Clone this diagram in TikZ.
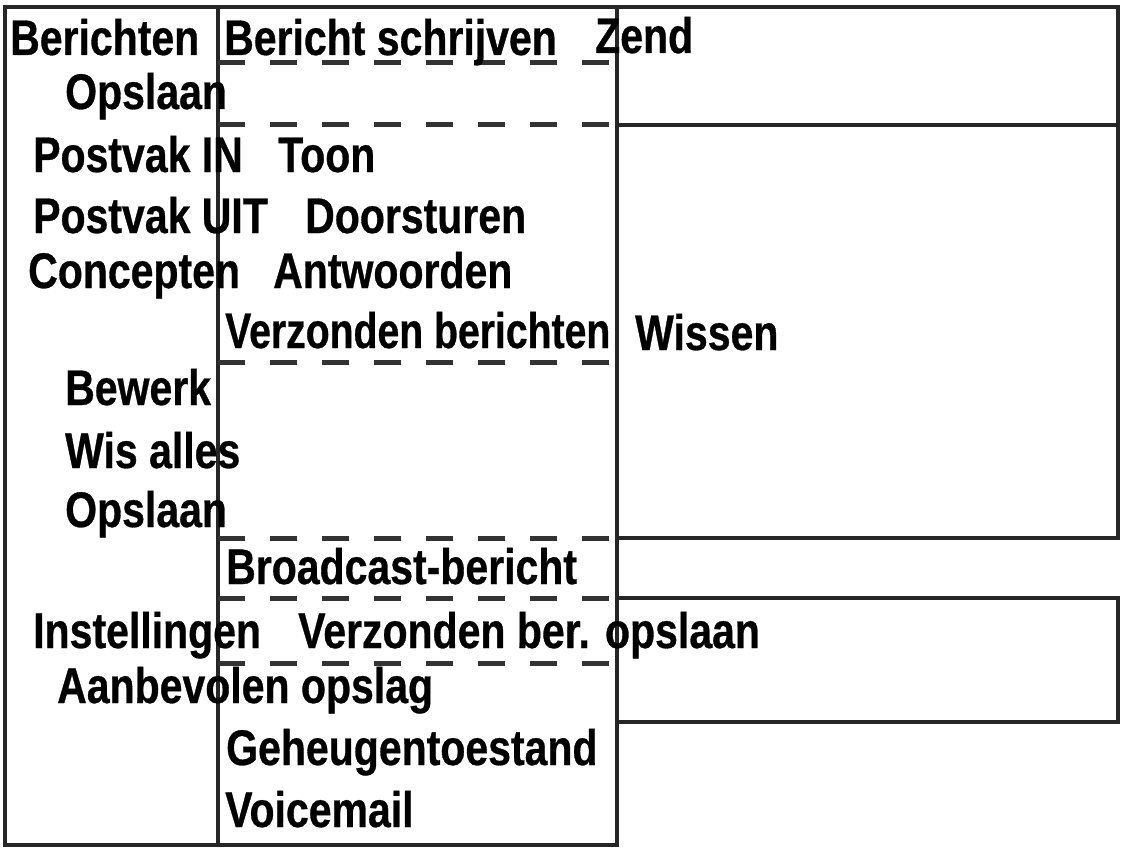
\documentclass[tikz,border=0pt]{standalone}
\usepackage{fontspec}
\setmainfont{Liberation Sans}[FakeStretch=0.82,BoldFeatures={FakeBold=0.6}]
\begin{document}
\begin{tikzpicture}[x=1pt,y=-1pt,
  frame/.style={draw=black!85,line width=4.5pt},
  dashline/.style={draw=black!80,line width=5pt,dash pattern=on 27pt off 25pt},
  lbl/.style={anchor=base west,inner sep=0pt,font=\fontsize{50}{54}\selectfont\bfseries}]
\useasboundingbox (0,0) rectangle (1126,848);
% frames
\draw[frame] (5,7) rectangle (617,845);
\draw[frame] (218,7) -- (218,845);
\draw[frame] (617,7) rectangle (1118,125);
\draw[frame] (617,125) rectangle (1118,538);
\draw[frame] (617,598) rectangle (1118,722);
% dashed separators
\foreach \yy in {63,125,362,538,598,663}
  \draw[dashline] (218,\yy) -- (617,\yy);
% texts
\node[lbl] (t1) at (10,55) {Berichten};
\node[lbl] (t2) at (224,55) {Bericht schrijven};
\node[lbl] (t3) at (595,53) {Zend};
\node[lbl] (t4) at (65,109) {Opslaan};
\node[lbl] (t5) at (33,172) {Postvak IN};
\node[lbl] (t6) at (278,172) {Toon};
\node[lbl] (t7) at (33,233) {Postvak UIT};
\node[lbl] (t8) at (305,233) {Doorsturen};
\node[lbl] (t9) at (28,288) {Concepten};
\node[lbl] (t10) at (273,288) {Antwoorden};
\node[lbl] (t11) at (225,348) {\scalebox{0.955}[1]{Verzonden berichten}};
\node[lbl] (t12) at (635,350) {Wissen};
\node[lbl] (t13) at (65,405) {Bewerk};
\node[lbl] (t14) at (65,468) {Wis alles};
\node[lbl] (t15) at (65,527) {Opslaan};
\node[lbl] (t16) at (226,584) {Broadcast-bericht};
\node[lbl] (t17) at (33,648) {Instellingen};
\node[lbl] (t18) at (298,648) {Verzonden ber. opslaan};
\node[lbl] (t19) at (57,703) {Aanbevolen opslag};
\node[lbl] (t20) at (226,765) {Geheugentoestand};
\node[lbl] (t21) at (225,827) {Voicemail};
\end{tikzpicture}
\end{document}
